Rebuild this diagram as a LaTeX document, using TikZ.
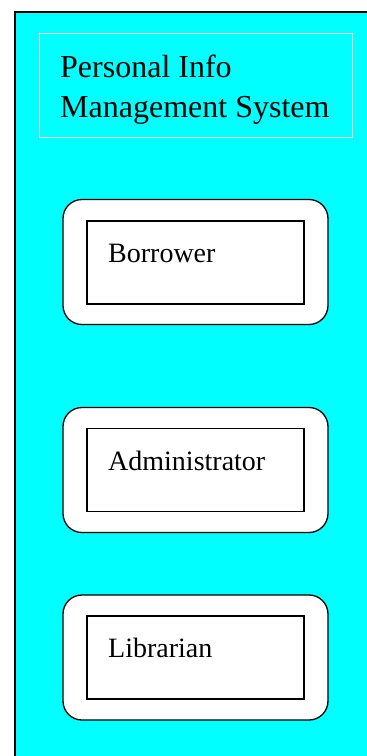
\documentclass[tikz,border=0pt]{standalone}
\usepackage{fontspec}
\setmainfont{Liberation Serif}
\usepackage{tikz}
\usetikzlibrary{positioning}
\definecolor{sysaqua}{RGB}{0,255,255}

\begin{document}
\begin{tikzpicture}[x=1pt,y=-1pt,
  roundbox/.style={draw, fill=white, line width=1.3pt, rounded corners=19pt,
    minimum width=265pt, minimum height=125pt, inner sep=0pt},
  innerbox/.style={draw, line width=1.3pt, minimum width=217pt,
    minimum height=83pt, inner sep=0pt},
  boxtext/.style={anchor=base west, inner sep=0pt, font=\fontsize{28}{34}\selectfont},
  titletext/.style={anchor=base west, inner sep=0pt, font=\fontsize{32}{40}\selectfont}]
\useasboundingbox (0,0) rectangle (367,756);
\clip (0,0) rectangle (367,756);
% System frame and its heading
\fill[sysaqua] (15,12) rectangle (380,770);
\draw[line width=1.5pt] (380,12) -- (15,12) -- (15,770);
\draw[white, line width=1pt] (39,33) rectangle (352,137);
\node[titletext] (title) at (60,77) {Personal Info};
\node[titletext] (subtitle) at (60,117) {Management System};
% Actors
\node[roundbox] (borrowerbox) at (195.5,262) {};
\node[innerbox] (borrower) at (195.5,262.5) {};
\node[boxtext] (borrowertxt) at (108,262) {Borrower};
\node[roundbox] (adminbox) at (195.5,470) {};
\node[innerbox] (admin) at (195.5,470) {};
\node[boxtext] (admintxt) at (108,470) {Administrator};
\node[roundbox] (librarianbox) at (195.5,657.5) {};
\node[innerbox] (librarian) at (195.5,657.5) {};
\node[boxtext] (librariantxt) at (108,657) {Librarian};
\end{tikzpicture}
\end{document}
